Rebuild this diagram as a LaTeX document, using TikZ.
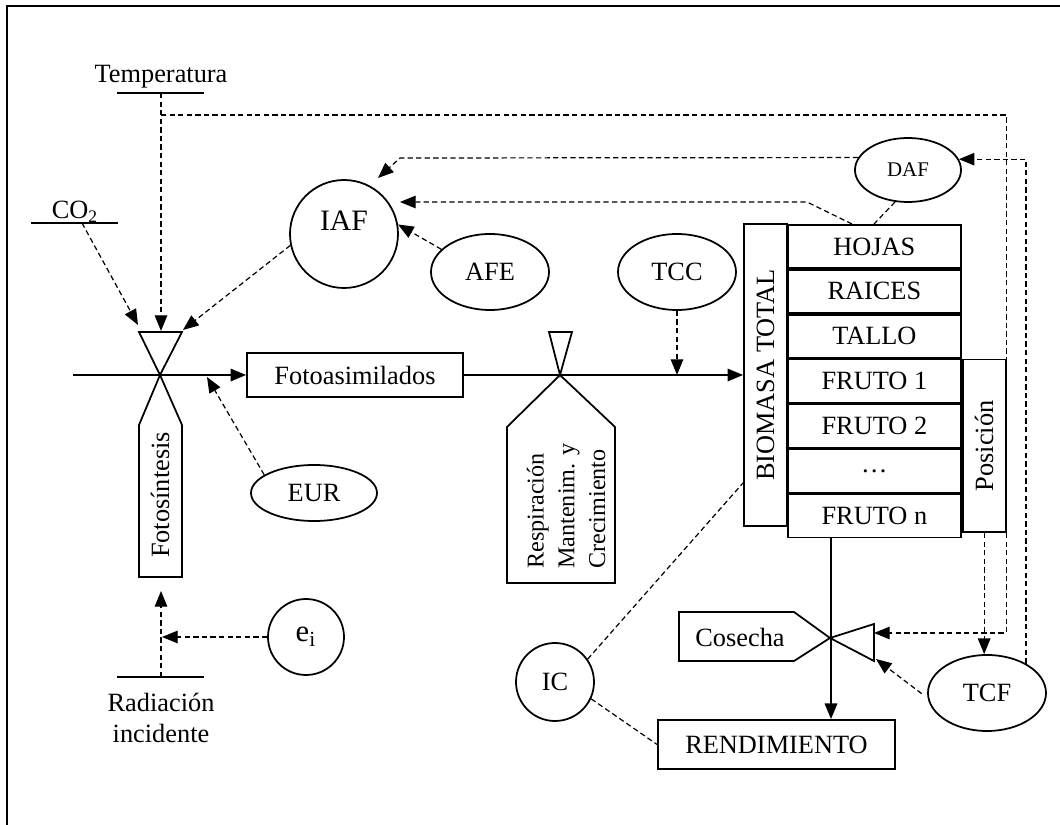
\documentclass[tikz,border=0pt]{standalone}
\usepackage{fontspec}
\setmainfont{Liberation Serif}
\usetikzlibrary{arrows.meta,shapes.geometric,calc}
\def\pxu{0.016cm}
\begin{document}
\begin{tikzpicture}[x=0.016cm,y=-0.016cm,
  every node/.style={font=\fontsize{12}{14}\selectfont, inner sep=0pt},
  sline/.style={line width=0.8pt},
  dline/.style={line width=0.55pt, dash pattern=on 2.4pt off 1.5pt},
  tip/.style={-{Triangle[length=0.25cm,width=0.2cm]}},
  ell/.style={draw, line width=0.8pt, ellipse},
  circ/.style={draw, line width=0.8pt, circle},
  box/.style={draw, line width=0.8pt, rectangle},
]
\useasboundingbox (0,0) rectangle (1060,825);
% frame
\draw[line width=0.8pt] (1080,6) -- (7,6) -- (7,840);

% inputs
\node (temp) at (161,77) {Temperatura};
\draw[sline] (117,93) -- (204,93);
\coordinate (tbar) at (161,93);
\node (co2) at (75,212) {CO\textsubscript{2}};
\draw[sline] (31,223) -- (118,223);
\coordinate (cbar) at (82,223);
\draw[sline] (117,677) -- (204,677);
\coordinate (rbar) at (161,677);
\node[align=center, font=\fontsize{12}{13.7}\selectfont] (rad) at (161,718) {Radiación\\incidente};

% photosynthesis valve
\coordinate (fx) at (160,375);
\draw[sline] (139,332) -- (182,332) -- (fx) -- cycle;
\draw[sline] (fx) -- (182,425) -- (182,577) -- (139,577) -- (139,425) -- cycle;
\node[rotate=90] (fotos) at (160,495) {Fotosíntesis};

% respiration valve
\coordinate (rx) at (560,375);
\draw[sline] (549,332) -- (572,332) -- (rx) -- cycle;
\draw[sline] (rx) -- (615,427) -- (615,583) -- (507,583) -- (507,427) -- cycle;
\node[rotate=90, align=left, font=\fontsize{11}{14}\selectfont] (resp) at (566,506) {Respiración\\Mantenim. y\\Crecimiento};

% boxes
\node[box, minimum width=216*\pxu, minimum height=44*\pxu] (foto) at (355,375) {Fotoasimilados};
\node[box, minimum width=43*\pxu, minimum height=302*\pxu] (bio) at (765.5,375) {};
\node[rotate=90] at (bio.center) {BIOMASA TOTAL};
\node[box, minimum width=173*\pxu, minimum height=43.14*\pxu, anchor=north west] (hojas) at (787,224) {HOJAS};
\node[box, minimum width=173*\pxu, minimum height=43.14*\pxu, anchor=north] (raices) at (hojas.south) {RAICES};
\node[box, minimum width=173*\pxu, minimum height=43.14*\pxu, anchor=north] (tallo) at (raices.south) {TALLO};
\node[box, minimum width=173*\pxu, minimum height=43.14*\pxu, anchor=north] (fr1) at (tallo.south) {FRUTO 1};
\node[box, minimum width=173*\pxu, minimum height=43.14*\pxu, anchor=north] (fr2) at (fr1.south) {FRUTO 2};
\node[box, minimum width=173*\pxu, minimum height=43.14*\pxu, anchor=north] (frd) at (fr2.south) {…};
\node[box, minimum width=173*\pxu, minimum height=43.14*\pxu, anchor=north] (frn) at (frd.south) {FRUTO n};
\node[box, minimum width=43*\pxu, minimum height=172.56*\pxu, anchor=north west] (posi) at (fr1.north east) {};
\node[rotate=90] at (posi.center) {Posición};
\node[box, minimum width=237*\pxu, minimum height=49*\pxu] (rend) at (776.5,744.5) {RENDIMIENTO};

% parameters
\node[circ, minimum size=108*\pxu] (iaf) at (344,234) {};
\node[font=\fontsize{13.5}{15}\selectfont] at (344,221) {IAF};
\node[ell, minimum width=118*\pxu, minimum height=76*\pxu] (afe) at (490,272) {AFE};
\node[ell, minimum width=118*\pxu, minimum height=76*\pxu] (tcc) at (677,272) {TCC};
\node[ell, minimum width=106*\pxu, minimum height=64*\pxu, font=\fontsize{9.5}{11}\selectfont] (daf) at (908,170) {DAF};
\node[ell, minimum width=126*\pxu, minimum height=56*\pxu] (eur) at (314,493) {EUR};
\node[circ, minimum size=76*\pxu, font=\fontsize{14}{16}\selectfont] (ei) at (306,637) {e\textsubscript{i}};
\node[circ, minimum size=78*\pxu] (ic) at (555,682) {IC};
\node[ell, minimum width=118*\pxu, minimum height=76*\pxu] (tcf) at (987,693) {TCF};

% harvest valve
\coordinate (hx) at (830,638);
\draw[sline] (679,612) -- (794,612) -- (hx) -- (794,661) -- (679,661) -- cycle;
\node (cos) at (740,637) {Cosecha};
\draw[sline] (hx) -- (874,624) -- (874,661) -- cycle;
\coordinate (htri) at (874,633);

% main flows
\coordinate (mstart) at (73,375);
\draw[sline, tip] (mstart) -- (foto.west);
\draw[sline, tip] (foto.east) -- (bio.west);
\coordinate (frout) at ($(frn.south west)+(44,0)$);
\draw[sline, tip] (frout) -- (frout |- rend.north);

% influences
\draw[dline, tip] (tbar) -- (161,331);
\coordinate (tj) at (161,115);
\draw[dline] (tj) -| (posi.north east);
\draw[dline, tip] (cbar) -- (138,325);
\draw[dline, tip] (iaf.192) -- (183,330);
\draw[dline, tip] (eur.160) -- (207,377);
\draw[dline, tip] (rbar) -- (161,591);
\draw[dline, tip] (ei.west) -- (162,637);
\draw[dline, tip] (tcc.south) -- (tcc.south |- foto.east);
\draw[dline, tip] (afe.155) -- (iaf.10);
\draw[dline, tip] (daf.166) -- (400,158) -- (378,178);
\draw[dline, tip] ($(hojas.north west)+(65,0)$) -- (807,202) -- (400,202);
\draw[dline] (daf.248) -- ($(hojas.north west)+(87,0)$);
\draw[dline, tip] (tcf.37) |- (daf.12);
\draw[dline, tip] (posi.south) -- (posi.south |- tcf.north);
\draw[dline, tip] (posi.south east) |- (htri);
\draw[dline, tip, shorten <=0.12cm] (tcf.185) -- (876,659);
\draw[dline] (ic.35) -- ($(bio.south west)+(0,-44)$);
\draw[dline] (ic.-25) -- (rend.west);
\end{tikzpicture}
\end{document}
